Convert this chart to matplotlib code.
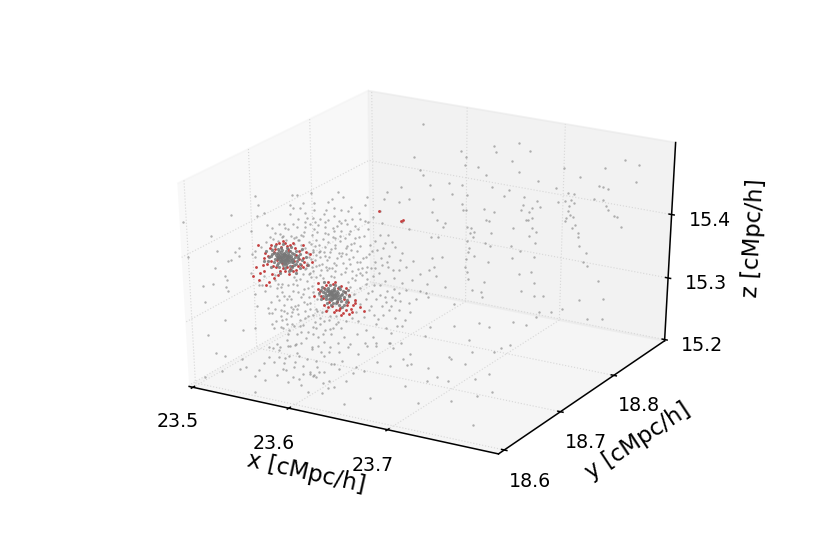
import matplotlib
matplotlib.use('Agg')
import matplotlib.pyplot as plt
from mpl_toolkits.mplot3d import Axes3D
from matplotlib.transforms import IdentityTransform

x_ticks = [23.5, 23.6, 23.7]
y_ticks = [18.6, 18.7, 18.8]
z_ticks = [15.2, 15.3, 15.4]

# values; each group shares one depth
back_y = 18.88
back = [(23.573,15.478),(23.612,15.447),(23.618,15.439),(23.617,15.426),(23.630,15.426),(23.638,15.416),(23.646,15.463),(23.648,15.455),(23.672,15.475),(23.683,15.466),(23.665,15.446),(23.672,15.430),(23.645,15.399),(23.657,15.389),(23.662,15.399),(23.692,15.421),(23.710,15.415),(23.718,15.448),(23.734,15.439),(23.758,15.460),(23.778,15.477),(23.791,15.472),(23.789,15.446),(23.753,15.430),(23.757,15.430),(23.762,15.429),(23.749,15.409),(23.758,15.410),(23.761,15.401),(23.763,15.396),(23.769,15.388),(23.772,15.388),(23.777,15.374),(23.722,15.411),(23.728,15.411),(23.726,15.401),(23.720,15.398),(23.713,15.395),(23.729,15.397),(23.724,15.392),(23.723,15.383),(23.728,15.376),(23.725,15.377),(23.721,15.372),(23.720,15.366),(23.730,15.364),(23.727,15.358),(23.734,15.352),(23.734,15.345),(23.735,15.332),(23.743,15.322),(23.740,15.308),(23.744,15.302),(23.756,15.281),(23.762,15.254),(23.737,15.245),(23.746,15.216),(23.761,15.221),(23.696,15.213),(23.709,15.217),(23.690,15.238),(23.700,15.240),(23.677,15.242),(23.690,15.259),(23.687,15.275),(23.674,15.268),(23.638,15.244),(23.635,15.228),(23.636,15.219),(23.625,15.227),(23.621,15.244),(23.620,15.256),(23.617,15.263),(23.618,15.277),(23.627,15.284),(23.642,15.278),(23.665,15.311),(23.675,15.306),(23.667,15.293),(23.690,15.300),(23.690,15.323),(23.684,15.332),(23.687,15.347),(23.691,15.341),(23.667,15.341),(23.644,15.326),(23.638,15.308),(23.644,15.305),(23.621,15.289),(23.621,15.295),(23.619,15.306),(23.622,15.319),(23.627,15.322),(23.626,15.315),(23.619,15.329),(23.623,15.328),(23.639,15.345),(23.642,15.345),(23.647,15.360),(23.637,15.362),(23.618,15.356),(23.615,15.354),(23.614,15.364),(23.619,15.380),(23.614,15.394),(23.600,15.394),(23.603,15.377),(23.583,15.363),(23.582,15.343),(23.587,15.331),(23.596,15.329),(23.594,15.321),(23.589,15.303),(23.581,15.301),(23.593,15.272),(23.582,15.267),(23.584,15.254),(23.586,15.239),(23.596,15.224),(23.576,15.208),(23.578,15.201),(23.606,15.199),(23.678,15.392),(23.677,15.380),(23.675,15.371),(23.683,15.370),(23.691,15.390),(23.686,15.377),(23.694,15.382),(23.687,15.362),(23.682,15.358),(23.680,15.357),(23.569,15.406),(23.573,15.399),(23.563,15.425),(23.580,15.385)]
back_shift = (-0.007, 0.006)

front_y = 18.60
front = [(23.522,15.251),(23.531,15.249),(23.549,15.250),(23.546,15.233),(23.527,15.223),(23.509,15.208),(23.561,15.201),(23.582,15.256),(23.591,15.247),(23.593,15.265),(23.603,15.262),(23.606,15.278),(23.608,15.274),(23.616,15.272),(23.621,15.289),(23.630,15.287),(23.633,15.281),(23.625,15.272),(23.638,15.289),(23.648,15.293),(23.658,15.303),(23.667,15.295),(23.677,15.311),(23.686,15.319),(23.699,15.323),(23.702,15.316),(23.712,15.302),(23.720,15.298),(23.716,15.295),(23.699,15.287),(23.686,15.290),(23.673,15.272),(23.665,15.275),(23.648,15.266),(23.643,15.273),(23.616,15.219),(23.630,15.223),(23.652,15.213),(23.679,15.231),(23.714,15.261),(23.735,15.277),(23.756,15.284),(23.782,15.295),(23.759,15.318),(23.772,15.315),(23.779,15.335),(23.806,15.350),(23.798,15.280),(23.759,15.254),(23.727,15.239),(23.780,15.224),(23.638,15.244),(23.632,15.239),(23.636,15.233),(23.611,15.247),(23.619,15.252),(23.623,15.248),(23.628,15.255),(23.633,15.257),(23.607,15.237),(23.618,15.249),(23.621,15.246),(23.625,15.247),(23.594,15.247),(23.592,15.258),(23.581,15.278),(23.589,15.281),(23.599,15.287),(23.604,15.290),(23.577,15.277),(23.588,15.277),(23.784,15.270),(23.745,15.285),
 (23.495,15.444),(23.498,15.392),(23.512,15.352),(23.522,15.359),(23.513,15.327),(23.533,15.306),(23.514,15.277),(23.528,15.411),(23.525,15.384),(23.523,15.432),(23.542,15.401),(23.539,15.398),(23.535,15.375),(23.537,15.369),(23.536,15.358),(23.537,15.352),(23.546,15.414),(23.551,15.422),(23.550,15.409),(23.544,15.468),(23.551,15.296),
 (23.598,15.271),(23.602,15.254),(23.612,15.260),(23.587,15.266),(23.577,15.262),(23.571,15.251),(23.566,15.238),(23.584,15.236),(23.596,15.229),(23.609,15.228),(23.601,15.238),(23.626,15.263),(23.640,15.272),(23.651,15.280),(23.662,15.265),(23.655,15.250),(23.643,15.236),(23.572,15.224),(23.561,15.227),(23.553,15.238)]
front_shift = (-0.002, 0.003)

right_y = 18.72
right = [(23.776,15.318),(23.766,15.302),(23.801,15.338),(23.710,15.260),(23.730,15.287),(23.720,15.291),(23.735,15.249),(23.730,15.213),(23.690,15.227),(23.668,15.203),(23.650,15.219),(23.665,15.252),(23.695,15.278),(23.670,15.269),(23.751,15.266),(23.753,15.303)]

mid_y = 18.70
mid = [(23.497,15.312),(23.499,15.342),(23.502,15.338),(23.505,15.434),(23.508,15.421),(23.514,15.411),(23.506,15.403),(23.499,15.379),(23.516,15.393),(23.521,15.389),(23.529,15.398),(23.534,15.400),(23.543,15.402),(23.535,15.393),(23.524,15.383),(23.532,15.379),(23.519,15.375),(23.501,15.280),(23.502,15.260),(23.499,15.224),(23.518,15.254),(23.515,15.253),(23.528,15.262),(23.534,15.260),(23.543,15.274),(23.545,15.270),(23.553,15.269),(23.526,15.278),(23.534,15.282),(23.539,15.283),(23.519,15.230),(23.527,15.234),(23.529,15.233),(23.539,15.244),(23.534,15.225),(23.533,15.216),(23.522,15.205),(23.534,15.206),(23.543,15.212),(23.548,15.216),(23.518,15.237),(23.509,15.297),(23.526,15.304),(23.530,15.304),(23.529,15.300),(23.543,15.320),(23.545,15.316),(23.541,15.307),(23.523,15.308),
 (23.543,15.446),(23.548,15.448),(23.563,15.455),(23.554,15.437),(23.566,15.441),(23.541,15.431),(23.544,15.427),(23.580,15.446),(23.590,15.463),(23.595,15.458),(23.586,15.439),(23.593,15.438),(23.600,15.438),(23.603,15.444),(23.556,15.423),(23.566,15.429),(23.576,15.427),(23.586,15.426),(23.580,15.419),(23.591,15.420),(23.597,15.424),(23.612,15.429),(23.617,15.428),(23.620,15.427),(23.625,15.436),(23.607,15.417),(23.610,15.413),(23.602,15.408),(23.593,15.405),(23.586,15.403),(23.576,15.407),(23.566,15.411),(23.561,15.407),(23.553,15.386),(23.548,15.378),(23.544,15.380),(23.561,15.376),(23.566,15.375),(23.563,15.365),(23.558,15.362),(23.570,15.366),(23.576,15.376),(23.586,15.382),(23.580,15.361),(23.590,15.370),(23.597,15.380),(23.607,15.398),(23.620,15.416),(23.634,15.429),(23.627,15.400),(23.637,15.399),(23.647,15.397),(23.624,15.384),(23.600,15.365),(23.576,15.345),(23.585,15.353),(23.563,15.334),(23.558,15.328),(23.561,15.324),(23.570,15.330),(23.586,15.341),(23.597,15.349),(23.607,15.342),(23.613,15.355),(23.627,15.359),(23.634,15.365),(23.640,15.364),(23.651,15.362),(23.637,15.342),(23.654,15.343),(23.625,15.346),(23.605,15.311),(23.617,15.307),(23.627,15.310),(23.637,15.316),(23.647,15.314),(23.652,15.314),(23.661,15.314),(23.620,15.290),(23.634,15.287),(23.647,15.286),(23.640,15.297),(23.627,15.271),(23.617,15.258),(23.608,15.270),(23.586,15.271),(23.573,15.258),(23.563,15.254),(23.558,15.292),(23.556,15.281),(23.566,15.272),(23.576,15.277),(23.588,15.261),(23.580,15.240),(23.566,15.230),(23.561,15.234),(23.607,15.249),(23.600,15.231),(23.615,15.236),(23.624,15.249),(23.637,15.267),(23.654,15.276),(23.627,15.235),(23.640,15.245),(23.652,15.249),(23.548,15.252),(23.551,15.245),(23.566,15.344),(23.570,15.358),(23.553,15.303),(23.560,15.331),(23.551,15.364),(23.554,15.335),(23.556,15.317),(23.637,15.466),(23.651,15.465),(23.661,15.472),(23.640,15.478),(23.654,15.488),(23.617,15.452),(23.620,15.465),(23.632,15.446),(23.654,15.436),(23.661,15.428),(23.640,15.413),(23.654,15.390)]
mid_more = [(23.521,15.357),(23.527,15.371),(23.533,15.381),(23.538,15.392),(23.544,15.372),(23.551,15.387),(23.556,15.401),(23.549,15.412),(23.541,15.417),(23.559,15.379),(23.563,15.391),(23.523,15.316),(23.529,15.292),(23.537,15.287),(23.546,15.296),(23.552,15.283),(23.558,15.274),(23.541,15.268),(23.533,15.249),(23.547,15.243),(23.556,15.261),(23.562,15.302),(23.557,15.345),(23.549,15.318),(23.565,15.352),(23.571,15.338),(23.568,15.318),(23.574,15.306),(23.572,15.349),(23.578,15.357),(23.583,15.346),(23.575,15.368),(23.582,15.374),(23.588,15.363),(23.594,15.357),(23.591,15.389),(23.597,15.396),(23.603,15.388),(23.609,15.379),(23.604,15.368),(23.612,15.364),(23.618,15.372),(23.622,15.393),(23.629,15.386),(23.633,15.376),(23.641,15.381),(23.568,15.396),(23.574,15.388),(23.579,15.397),(23.584,15.393),(23.589,15.412),(23.599,15.417),(23.604,15.427),(23.611,15.438),(23.571,15.418),(23.578,15.433),(23.584,15.451),(23.558,15.416),(23.551,15.429),(23.596,15.343),(23.603,15.335),(23.611,15.346),(23.618,15.339),(23.625,15.331),(23.632,15.334),(23.639,15.327),(23.646,15.332),(23.611,15.322),(23.619,15.317),(23.633,15.301),(23.643,15.304),(23.651,15.301),(23.611,15.297),(23.625,15.284),(23.615,15.278),(23.606,15.284),(23.602,15.272),(23.596,15.266),(23.591,15.253),(23.582,15.251),(23.574,15.244),(23.569,15.263),(23.561,15.246),(23.553,15.257),(23.546,15.262),(23.538,15.256),(23.531,15.271),(23.524,15.283),(23.517,15.271),(23.511,15.288),(23.505,15.296),(23.514,15.262),(23.522,15.243),(23.528,15.247),(23.536,15.233),(23.544,15.228),(23.553,15.225),(23.559,15.212),(23.566,15.216),(23.572,15.225),(23.579,15.219),(23.587,15.228),(23.594,15.239),(23.573,15.284),(23.566,15.291),(23.561,15.311),(23.552,15.327),(23.559,15.356),(23.563,15.368),(23.581,15.332),(23.601,15.321),(23.606,15.301),(23.597,15.309),(23.622,15.298),(23.629,15.279),(23.642,15.262),(23.648,15.274),(23.657,15.287),(23.662,15.301),(23.668,15.322),(23.672,15.337),(23.664,15.351),(23.658,15.369),(23.665,15.381),(23.672,15.363),(23.679,15.349),(23.681,15.372),(23.646,15.349),(23.652,15.378),(23.644,15.403),(23.632,15.411),(23.616,15.405),(23.612,15.388),(23.576,15.398),(23.593,15.372),(23.599,15.384),(23.570,15.378),(23.565,15.401),(23.587,15.352),(23.573,15.327),(23.577,15.340),(23.566,15.327),(23.556,15.338),(23.551,15.372),(23.546,15.383),(23.555,15.393),(23.567,15.384),(23.579,15.385),(23.586,15.393),(23.592,15.398),(23.609,15.352),(23.617,15.349),(23.623,15.357),(23.631,15.352)]
mid_dense = [(23.576,15.362),(23.581,15.369),(23.586,15.378),(23.592,15.366),(23.597,15.371),(23.602,15.379),(23.606,15.391),(23.611,15.401),(23.601,15.357),(23.608,15.362),(23.615,15.371),(23.621,15.378),(23.627,15.368),(23.635,15.391),(23.639,15.371),(23.645,15.361),(23.619,15.358),(23.613,15.343),(23.606,15.333),(23.599,15.328),(23.592,15.338),(23.584,15.332),(23.578,15.322),(23.571,15.368),(23.566,15.361),(23.561,15.353),(23.555,15.368),(23.549,15.379),(23.569,15.407),(23.577,15.414),(23.585,15.408),(23.593,15.418),(23.601,15.403),(23.564,15.417),(23.556,15.408),(23.547,15.398),(23.541,15.383),(23.536,15.375),(23.529,15.383),(23.522,15.372),(23.515,15.366),(23.509,15.357),(23.503,15.349),(23.511,15.311),(23.517,15.297),(23.524,15.296),(23.531,15.286),(23.538,15.271),(23.546,15.276),(23.552,15.296),(23.559,15.283),(23.565,15.276),(23.571,15.272),(23.579,15.268),(23.585,15.257),(23.579,15.247),(23.571,15.238),(23.564,15.245),(23.556,15.236),(23.548,15.233),(23.541,15.241),(23.534,15.241),(23.527,15.253),(23.521,15.262),(23.531,15.261),(23.539,15.263),(23.562,15.265),(23.569,15.253),(23.578,15.262),(23.541,15.296),(23.536,15.304),(23.546,15.308),(23.557,15.306),(23.568,15.298),(23.549,15.289),(23.617,15.331),(23.623,15.322),(23.631,15.318),(23.637,15.308),(23.644,15.318),(23.651,15.327),(23.658,15.333),(23.603,15.347),(23.579,15.344),(23.569,15.346),(23.562,15.341)]
mid_shift = (-0.004, 0.006)

# the two dense knots, same depth as mid
knot_one = [(23.534,15.347),(23.531,15.350),(23.537,15.345),(23.529,15.344),(23.540,15.349),(23.533,15.354),(23.527,15.350),(23.536,15.340),(23.530,15.339),(23.542,15.343),(23.538,15.353),(23.525,15.345),(23.544,15.351),(23.535,15.358),(23.528,15.356),(23.532,15.335),(23.539,15.336),(23.523,15.341),(23.546,15.346),(23.541,15.357),(23.526,15.337),(23.520,15.349),(23.548,15.354),(23.536,15.362),(23.530,15.361),(23.543,15.338),(23.521,15.355),(23.549,15.342),(23.534,15.331),(23.527,15.330),(23.540,15.330),(23.552,15.348),(23.517,15.343),(23.546,15.361),(23.524,15.362),(23.533,15.343),(23.536,15.348),(23.531,15.346),(23.535,15.352),(23.538,15.341),(23.528,15.348),(23.541,15.346),(23.532,15.352),(23.526,15.343),(23.537,15.351),(23.534,15.339),(23.530,15.355),(23.543,15.355),(23.522,15.336),(23.549,15.335),(23.514,15.352),(23.556,15.355),(23.519,15.328),(23.545,15.326),(23.532,15.368),(23.541,15.366),(23.558,15.342),(23.512,15.336),(23.528,15.322),(23.552,15.366),
 (23.532,15.348),(23.535,15.345),(23.533,15.349),(23.536,15.351),(23.530,15.347),(23.534,15.344),(23.537,15.347),(23.531,15.343),(23.529,15.347),(23.539,15.345),(23.533,15.351),(23.535,15.342),(23.527,15.346),(23.540,15.352),(23.532,15.341),(23.538,15.349),(23.534,15.353),(23.529,15.352),(23.541,15.342),(23.526,15.352),(23.536,15.344),(23.530,15.342),(23.533,15.338),(23.537,15.355),(23.528,15.340),(23.542,15.348),(23.524,15.348),(23.535,15.336),(23.545,15.341),(23.531,15.358),(23.539,15.359),(23.523,15.351),(23.547,15.350),(23.525,15.333),(23.541,15.334),(23.519,15.345),(23.550,15.358),(23.538,15.328),(23.527,15.359),(23.516,15.337)]
knot_two = [(23.583,15.305),(23.580,15.308),(23.586,15.303),(23.578,15.302),(23.588,15.307),(23.582,15.311),(23.577,15.307),(23.585,15.299),(23.580,15.298),(23.590,15.301),(23.587,15.311),(23.575,15.304),(23.592,15.308),(23.584,15.315),(23.578,15.313),(23.581,15.294),(23.587,15.295),(23.573,15.299),(23.594,15.304),(23.590,15.314),(23.576,15.295),(23.571,15.307),(23.596,15.311),(23.585,15.319),(23.580,15.318),(23.591,15.296),(23.572,15.312),(23.597,15.300),(23.583,15.290),(23.577,15.289),(23.589,15.289),(23.582,15.302),(23.585,15.306),(23.581,15.305),(23.584,15.309),(23.587,15.300),(23.579,15.304),(23.589,15.304),(23.582,15.308),(23.576,15.301),(23.600,15.306),(23.568,15.302),(23.594,15.291),(23.570,15.292),(23.599,15.316),(23.574,15.321),
 (23.583,15.303),(23.581,15.307),(23.585,15.304),(23.582,15.300),(23.584,15.301),(23.586,15.307),(23.580,15.302),(23.579,15.306),(23.587,15.305),(23.583,15.298),(23.584,15.312),(23.578,15.309),(23.588,15.298),(23.591,15.305),(23.576,15.298),(23.582,15.296),(23.575,15.310),(23.593,15.312),(23.586,15.292),(23.579,15.295),(23.589,15.317),(23.573,15.305),(23.596,15.296),(23.581,15.286),(23.592,15.287)]

red_one = [(23.503,15.324),(23.499,15.308),(23.505,15.303),(23.513,15.298),(23.506,15.359),(23.534,15.370),(23.553,15.372),(23.562,15.349),(23.552,15.338),(23.522,15.311),(23.516,15.345),(23.521,15.330),(23.511,15.320),(23.528,15.325),(23.537,15.322),(23.545,15.331),(23.553,15.352),(23.549,15.362),(23.540,15.368),(23.525,15.366),(23.518,15.358),(23.512,15.340),(23.530,15.363),(23.543,15.345),(23.525,15.340),(23.536,15.333),(23.546,15.355),(23.520,15.318),(23.507,15.315),(23.516,15.304),(23.542,15.328),(23.557,15.342),(23.532,15.372),(23.522,15.352),(23.531,15.330),(23.550,15.340),(23.538,15.358),(23.527,15.345),(23.560,15.360),(23.515,15.332),
 (23.519,15.337),(23.524,15.329),(23.533,15.326),(23.541,15.336),(23.547,15.338),(23.554,15.346),(23.545,15.366),(23.536,15.366),(23.528,15.368),(23.520,15.363),(23.513,15.348),(23.510,15.329),(23.526,15.318),(23.539,15.331),(23.549,15.349),(23.556,15.362),(23.543,15.372),(23.524,15.358),(23.531,15.338),(23.537,15.362)]
red_two = [(23.568,15.317),(23.563,15.295),(23.575,15.276),(23.586,15.281),(23.597,15.291),(23.606,15.302),(23.611,15.293),(23.615,15.287),(23.592,15.320),(23.578,15.322),(23.600,15.308),(23.590,15.285),(23.582,15.286),(23.572,15.295),(23.598,15.297),(23.594,15.300),(23.574,15.311),(23.585,15.324),(23.603,15.293),(23.596,15.284),(23.593,15.278),(23.579,15.291),(23.570,15.305),(23.588,15.315),(23.601,15.287),(23.606,15.297),(23.577,15.283),(23.595,15.312),(23.587,15.293),(23.599,15.278),
 (23.567,15.308),(23.573,15.284),(23.584,15.277),(23.591,15.274),(23.602,15.282),(23.597,15.318),(23.583,15.320),(23.576,15.316),(23.570,15.298),(23.589,15.281)]
red_far = [(23.631,15.446),(23.653,15.437),(23.655,15.440)]


def unzip(pairs, depth, shift=(0.0, 0.0)):
    return ([p[0] + shift[0] for p in pairs], [depth] * len(pairs),
            [p[1] + shift[1] for p in pairs])


def pin_label(label, px, py, angle):
    draw = label.draw

    def pinned(renderer):
        label.set_transform(IdentityTransform())
        label.set_position((px, 548 - py))
        label.set_rotation(angle)
        label.set_rotation_mode('anchor')
        label.set_ha('center')
        label.set_va('center')
        draw(renderer)
    label.draw = pinned


fig = plt.figure(figsize=(6, 4), dpi=137)
ax = fig.add_axes([0.126, 0.105, 0.775, 0.8], projection='3d')
ax.apply_aspect = lambda position=None: ax._set_position(ax.get_position(original=True), 'active')
ax.set_box_aspect((1, 1, 0.935), zoom=0.92)
ax.view_init(elev=29, azim=-60)
ax.computed_zorder = False

for pairs in (red_one, red_two, red_far):
    xs, ys, zs = unzip(pairs, mid_y, mid_shift)
    ax.scatter(xs, ys, zs, s=2.2, c='#c44040', linewidths=0, alpha=1.0, depthshade=False, zorder=3)
for pairs, depth, shift in ((back, back_y, back_shift), (front, front_y, front_shift), (right, right_y, mid_shift), (mid, mid_y, mid_shift), (mid_more, mid_y, mid_shift), (mid_dense, mid_y, mid_shift)):
    xs, ys, zs = unzip(pairs, depth, shift)
    ax.scatter(xs, ys, zs, s=1.6, c='#808080', linewidths=0, alpha=0.6, depthshade=False, zorder=2)
for pairs in (knot_one, knot_two):
    xs, ys, zs = unzip(pairs, mid_y, mid_shift)
    ax.scatter(xs, ys, zs, s=2.8, c='#777777', linewidths=0, alpha=0.85, depthshade=False, zorder=4)

ax.set_xlim(23.496, 23.809)
ax.set_ylim(18.59, 18.9)
ax.set_zlim(15.198, 15.51)
ax.set_xticks(x_ticks)
ax.set_yticks(y_ticks)
ax.set_zticks(z_ticks)
for a in (ax.xaxis, ax.yaxis, ax.zaxis):
    a._axinfo['grid'].update(color='#d8d8d8', linestyle=':', linewidth=0.6)
    a._axinfo['axisline']['linewidth'] = 1.0
    a._axinfo['tick']['outward_factor'] = 0.1
    a._axinfo['tick']['inward_factor'] = 0.1
ax.tick_params(labelsize=10, pad=4)
ax.set_xlabel('x [cMpc/h]', fontsize=12)
ax.set_ylabel('y [cMpc/h]', fontsize=12)
ax.set_zlabel('z [cMpc/h]', fontsize=12)
pin_label(ax.xaxis.label, 306, 473, -12.5)
pin_label(ax.yaxis.label, 638, 441, 33.5)
pin_label(ax.zaxis.label, 754, 238, 87)
fig.savefig('out.png', dpi=137)
